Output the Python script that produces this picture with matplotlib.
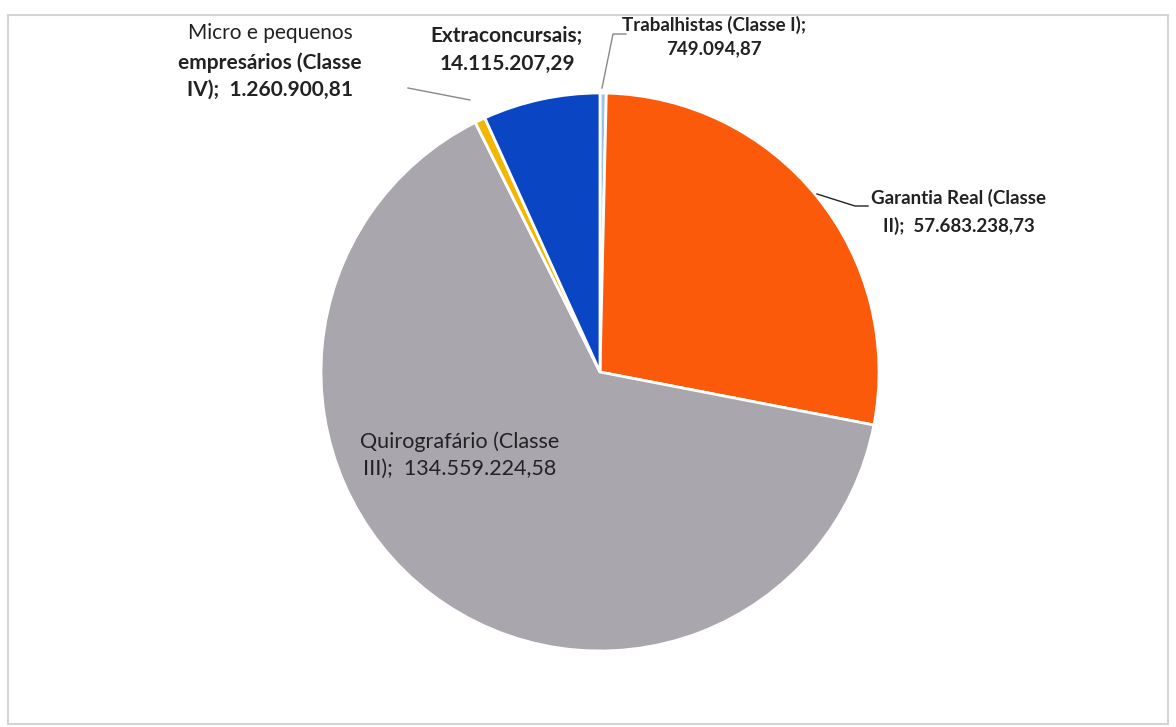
import matplotlib.pyplot as plt
from matplotlib.patches import Rectangle

# data, clockwise from the top
categories = ["Trabalhistas (Classe I)", "Garantia Real (Classe II)",
              "Quirografário (Classe III)", "Micro e pequenos empresários (Classe IV)",
              "Extraconcursais"]
values = [749094.87, 57683238.73, 134559224.58, 1260900.81, 14115207.29]
label_texts = ["Trabalhistas (Classe I);\n749.094,87",
               "Garantia Real (Classe\nII);  57.683.238,73",
               "Quirografário (Classe\nIII);  134.559.224,58",
               "empresários (Classe\nIV);  1.260.900,81",
               "Extraconcursais;\n14.115.207,29"]
colors = ["#9DC3E6", "#FA5A0A", "#A9A6AE", "#F2B705", "#0A46C4"]

plt.rcParams['font.family'] = ['Lato', 'DejaVu Sans']

W, H = 1176, 727
fig = plt.figure(figsize=(W / 100, H / 100), dpi=100)
ax = fig.add_axes([0, 0, 1, 1])

cx, cy, r = 600, H - 372, 279
wedges, _ = ax.pie(values, colors=colors, startangle=90, counterclock=False,
                   center=(cx, cy), radius=r, frame=True,
                   wedgeprops=dict(edgecolor='white', linewidth=2))
ax.set_xlim(0, W)
ax.set_ylim(0, H)
ax.set_aspect('equal')
ax.axis('off')

# faint scan border
ax.add_patch(Rectangle((8, H - 724), 1160, 709, fill=False, edgecolor='#D4D4D4', lw=1.5))

txt = dict(color='#222222', va='center', linespacing=1.45)
lc = dict(color='#888888', lw=1)

# Trabalhistas
ax.plot([602, 613, 626], [H - 88, H - 34, H - 34], **lc)
ax.text(714, H - 37, label_texts[0], fontsize=13.5, fontweight='bold', ha='center', **txt)
# Garantia Real
ax.plot([817, 855, 868], [H - 194, H - 206, H - 206], color='#222222', lw=1)
ax.text(871, H - 212, label_texts[1], fontsize=13.5, fontweight='bold', ha='left',
        multialignment='center', linespacing=1.6, color='#222222', va='center')
# Quirografario
ax.text(460, H - 455, label_texts[2], fontsize=15.5, fontweight='normal', ha='center', **txt)
# Micro
ax.plot([408, 470], [H - 88, H - 100], **lc)
ax.text(270, H - 33, "Micro e pequenos", fontsize=15, fontweight='normal', ha='center', **txt)
ax.text(270, H - 76, label_texts[3], fontsize=15, fontweight='bold', ha='center', **txt)
# Extraconcursais
ax.text(507, H - 50, label_texts[4], fontsize=15, fontweight='bold', ha='center', **txt)

fig.savefig("out.png", dpi=100)
